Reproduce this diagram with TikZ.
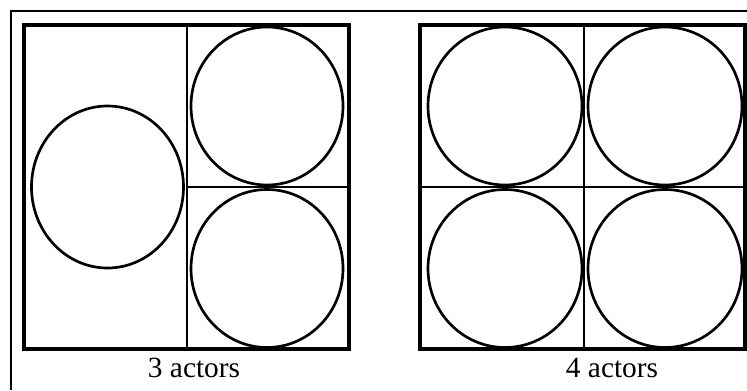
\documentclass[tikz,border=0pt]{standalone}
\usepackage{fontspec}
\setmainfont{Liberation Serif}
\usetikzlibrary{positioning}

\begin{document}
\begin{tikzpicture}[x=0.75pt,y=0.75pt,yscale=-1,xscale=1]
	\useasboundingbox (0,0) rectangle (747,390);
	
	%Shape: Frame
	\draw [line width=1.1]  (11,390) -- (11,11) -- (747,11) ;
	
	%Shape: Box 3 actors
	\draw [line width=3]  (24,25) rectangle (349,349) ;
	\draw [line width=2]  (187,25) -- (187,349) (187,187) -- (349,187) ;
	%Shape: Ellipse
	\draw [line width=2]  (107.5,187) ellipse (76 and 81) ;
	\draw [line width=2]  (267,106) ellipse (76 and 79) ;
	\draw [line width=2]  (267,268.5) ellipse (76 and 79) ;
	
	%Shape: Box 4 actors
	\draw [line width=3]  (420,25) rectangle (745,349) ;
	\draw [line width=2]  (584,25) -- (584,349) (420,187) -- (745,187) ;
	%Shape: Ellipse
	\draw [line width=2]  (505,106) ellipse (77 and 79) ;
	\draw [line width=2]  (665,106) ellipse (77 and 79) ;
	\draw [line width=2]  (505,268.5) ellipse (77 and 79) ;
	\draw [line width=2]  (665,268.5) ellipse (77 and 79) ;
	
	% Text Node
	\draw (194,368) node (three) [font=\fontsize{22}{26}\selectfont]  {3 actors};
	% Text Node
	\draw (612,368) node (four) [font=\fontsize{22}{26}\selectfont]  {4 actors};
	
\end{tikzpicture}
\end{document}
